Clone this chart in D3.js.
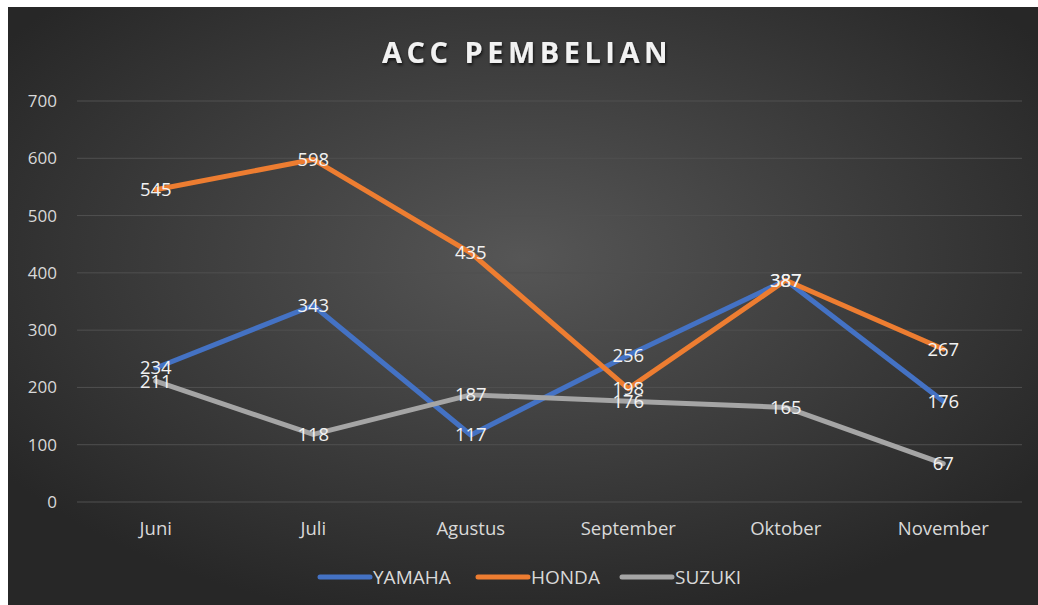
<!DOCTYPE html>
<html>
<head>
<meta charset="utf-8">
<script src="https://cdn.jsdelivr.net/npm/d3@7"></script>
<style>
  body { margin: 0; background: #fff; }
  svg { display: block; }
  text { font-family: "Open Sans", "Noto Sans", sans-serif; }
</style>
</head>
<body>
<div id="chart"></div>
<script>
var months = ["Juni", "Juli", "Agustus", "September", "Oktober", "November"];
var seriesNames = ["YAMAHA", "HONDA", "SUZUKI"];
var yamaha = [234, 343, 117, 256, 387, 176];
var honda = [545, 598, 435, 198, 387, 267];
var suzuki = [211, 118, 187, 176, 165, 67];
var yTicks = [0, 100, 200, 300, 400, 500, 600, 700];
var colors = ["#4472C4", "#ED7D31", "#A5A5A5"];

var W = 1038, H = 605;
var margin = {top: 101, right: 16, bottom: 103, left: 77};

var svg = d3.select("#chart").append("svg")
    .attr("width", W)
    .attr("height", H);

var defs = svg.append("defs");
var grad = defs.append("radialGradient")
    .attr("id", "bg")
    .attr("cx", "50%").attr("cy", "42%").attr("r", "62%");
grad.append("stop").attr("offset", "0%").attr("stop-color", "#565656");
grad.append("stop").attr("offset", "100%").attr("stop-color", "#272727");

var shadow = defs.append("filter").attr("id", "shadow")
    .attr("x", "-10%").attr("y", "-30%").attr("width", "120%").attr("height", "160%");
shadow.append("feDropShadow")
    .attr("dx", 1).attr("dy", 2).attr("stdDeviation", 1.5)
    .attr("flood-color", "#000").attr("flood-opacity", 0.7);

svg.append("rect")
    .attr("x", 8).attr("y", 7)
    .attr("width", W - 8).attr("height", H - 7)
    .attr("fill", "url(#bg)");

var x = d3.scaleBand()
    .domain(months)
    .range([margin.left, W - margin.right]);

var y = d3.scaleLinear()
    .domain([0, 700])
    .range([H - margin.bottom, margin.top]);

// gridlines
svg.append("g")
  .selectAll("line")
  .data(yTicks)
  .enter().append("line")
    .attr("x1", margin.left)
    .attr("x2", W - margin.right)
    .attr("y1", function(d) { return y(d); })
    .attr("y2", function(d) { return y(d); })
    .attr("stroke", "#505050")
    .attr("stroke-width", 1);

// y axis labels
var yAxis = svg.append("g")
    .attr("transform", "translate(" + (margin.left - 20) + ",0)")
    .call(d3.axisLeft(y).tickValues(yTicks).tickSize(0).tickPadding(0));
yAxis.select(".domain").remove();
yAxis.selectAll("text")
    .attr("fill", "#d9d9d9")
    .style("font-size", "17px");

// x axis labels
var xAxis = svg.append("g")
    .attr("transform", "translate(0," + (y(0) + 20) + ")")
    .call(d3.axisBottom(x).tickSize(0).tickPadding(0));
xAxis.select(".domain").remove();
xAxis.selectAll("text")
    .attr("fill", "#d9d9d9")
    .style("font-size", "18.5px");

var data = [yamaha, honda, suzuki];

var line = d3.line()
    .x(function(d, i) { return x(months[i]) + x.bandwidth() / 2; })
    .y(function(d) { return y(d); });

svg.append("g")
  .selectAll("path")
  .data(data)
  .enter().append("path")
    .attr("d", line)
    .attr("fill", "none")
    .attr("stroke", function(d, i) { return colors[i]; })
    .attr("stroke-width", 5)
    .attr("stroke-linecap", "round")
    .attr("stroke-linejoin", "round");

// data labels
data.forEach(function(vals) {
  svg.append("g")
    .selectAll("text")
    .data(vals)
    .enter().append("text")
      .attr("x", function(d, i) { return x(months[i]) + x.bandwidth() / 2; })
      .attr("y", function(d) { return y(d); })
      .attr("dy", "0.35em")
      .attr("text-anchor", "middle")
      .attr("fill", "#f2f2f2")
      .style("font-size", "18.5px")
      .text(function(d) { return d; });
});

// title
svg.append("text")
    .attr("x", 527)
    .attr("y", 63)
    .attr("text-anchor", "middle")
    .attr("fill", "#f2f2f2")
    .attr("filter", "url(#shadow)")
    .style("font-size", "29px")
    .style("font-weight", "bold")
    .style("letter-spacing", "4.5px")
    .text("ACC PEMBELIAN");

// legend
var legendX = [320, 478, 622];
var legend = svg.append("g")
  .selectAll("g")
  .data(seriesNames)
  .enter().append("g")
    .attr("transform", function(d, i) { return "translate(" + legendX[i] + ",577)"; });

legend.append("line")
    .attr("x1", 0).attr("x2", 50)
    .attr("stroke", function(d, i) { return colors[i]; })
    .attr("stroke-width", 5)
    .attr("stroke-linecap", "round");

legend.append("text")
    .attr("x", 53)
    .attr("dy", "0.35em")
    .attr("fill", "#d9d9d9")
    .style("font-size", "19px")
    .text(function(d) { return d; });
</script>
</body>
</html>
